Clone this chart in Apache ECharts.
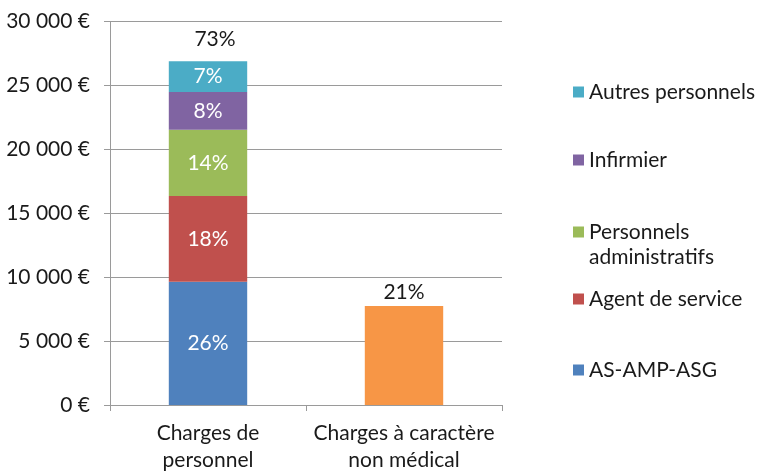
<!DOCTYPE html>
<html><head><meta charset="utf-8">
<script src="https://cdn.jsdelivr.net/npm/echarts@6/dist/echarts.min.js"></script>
<style>html,body{margin:0;padding:0;background:#fff}#c{width:760px;height:474px}</style>
</head><body><div id="c"></div>
<script>
const categories = ['Charges de\npersonnel', 'Charges à caractère\nnon médical'];
const yTicks = [0, 5000, 10000, 15000, 20000, 25000, 30000];
const seriesNames = ['AS-AMP-ASG', 'Agent de service', 'Personnels administratifs', 'Infirmier', 'Autres personnels'];
const asAmpAsg = [9650, null];
const agentService = [6700, null];
const persAdmin = [5200, null];
const infirmier = [2950, null];
const autres = [2400, null];
const nonMedical = [null, 7750];
const pctAsAmpAsg = ['26%', ''];
const pctAgent = ['18%', ''];
const pctAdmin = ['14%', ''];
const pctInfirmier = ['8%', ''];
const pctAutres = ['7%', ''];
const pctNonMedical = ['', '21%'];
const totalPct = ['73%', ''];
const colors = ['#4F81BD', '#C0504D', '#9BBB59', '#8064A2', '#4BACC6', '#F79646'];

const FONT = 'Lato';
const FS = 21;
const TXT = '#1a1a1a';
const GRID = '#9a9a9a';
const chart = echarts.init(document.getElementById('c'), null, {renderer: 'canvas'});
function fmtEuro(v) {
  return String(v).replace(/\B(?=(\d{3})+(?!\d))/g, ' ') + ' €';
}
const stackData = [asAmpAsg, agentService, persAdmin, infirmier, autres];
const stackPct = [pctAsAmpAsg, pctAgent, pctAdmin, pctInfirmier, pctAutres];
const series = stackData.map((d, i) => ({
  name: seriesNames[i], type: 'bar', stack: 's', barWidth: '40%',
  data: d, itemStyle: {color: colors[i]},
  label: {show: true, position: 'inside', color: '#fff', fontFamily: FONT, fontSize: FS,
    formatter: p => stackPct[i][p.dataIndex]}
}));
series.push({
  name: 'Charges à caractère non médical', type: 'bar', stack: 's', barWidth: '40%',
  data: nonMedical, itemStyle: {color: colors[5]},
  label: {show: true, position: 'top', distance: 3, color: TXT, fontFamily: FONT, fontSize: FS,
    formatter: p => pctNonMedical[p.dataIndex]}
});
series.push({
  name: 'total', type: 'bar', stack: 's', barWidth: '40%',
  data: [0, null], itemStyle: {color: 'transparent'},
  label: {show: true, position: 'top', distance: 12, offset: [7, 0], color: TXT, fontFamily: FONT, fontSize: FS,
    formatter: p => totalPct[p.dataIndex]}
});
const LH = 25;
const legendCenters = [92, 160, 232, 299, 370];
const legendOrder = [4, 3, 2, 1, 0];
const legends = legendOrder.map((si, k) => {
  const lines = si === 2 ? 3 : 1;
  return {
    left: 568, top: legendCenters[k] - 5 - lines * LH / 2, orient: 'vertical', icon: 'rect',
    itemWidth: 11, itemHeight: 11, itemGap: 0,
    selectedMode: false,
    data: [seriesNames[si]],
    formatter: n => n === 'Personnels administratifs' ? ' \nPersonnels\nadministratifs' : n,
    textStyle: {fontFamily: FONT, fontSize: FS, color: TXT, lineHeight: LH}
  };
});
chart.setOption({
  animation: false,
  color: colors,
  grid: {left: 110, right: 258, top: 21.7, bottom: 67.3},
  legend: legends,
  xAxis: {
    type: 'category', data: categories,
    axisLine: {lineStyle: {color: GRID}},
    axisTick: {show: true, length: 6, lineStyle: {color: GRID}},
    axisLabel: {interval: 0, color: TXT, fontFamily: FONT, fontSize: FS, lineHeight: 27, margin: 15}
  },
  yAxis: {
    type: 'value', min: yTicks[0], max: yTicks[yTicks.length - 1], interval: yTicks[1] - yTicks[0],
    axisLine: {show: true, lineStyle: {color: GRID}},
    axisTick: {show: true, length: 6, lineStyle: {color: GRID}},
    splitLine: {lineStyle: {color: GRID}},
    axisLabel: {color: TXT, fontFamily: FONT, fontSize: FS, margin: 20, formatter: fmtEuro}
  },
  series: series
});
</script></body></html>
